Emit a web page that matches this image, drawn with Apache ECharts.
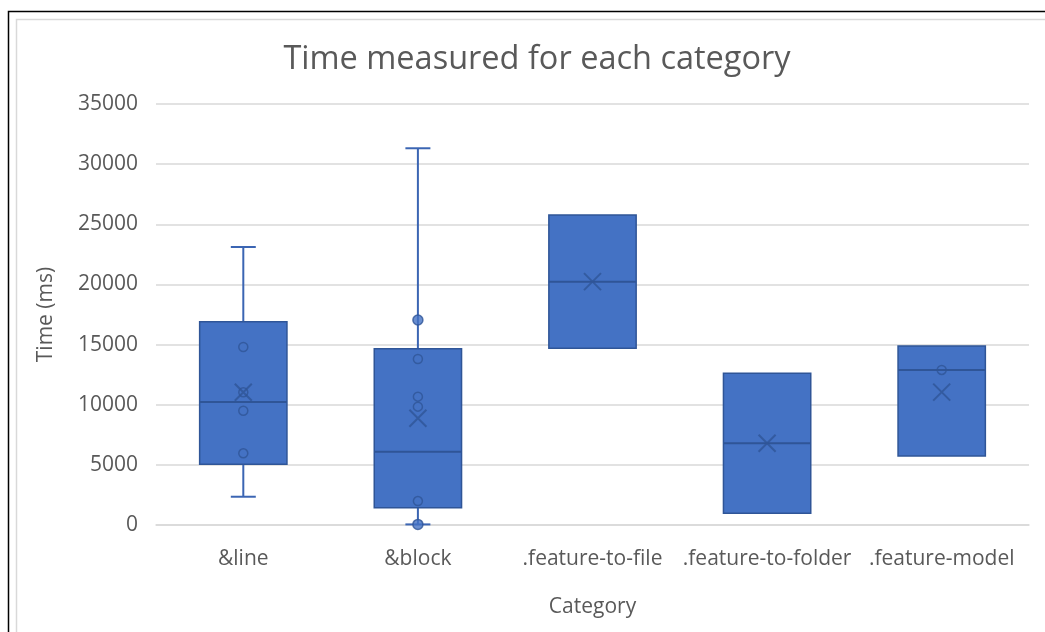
<!DOCTYPE html>
<html>
<head>
<meta charset="utf-8">
<script src="https://cdn.jsdelivr.net/npm/echarts@6/dist/echarts.min.js"></script>
<style>
html,body{margin:0;padding:0;background:#fff;}
#c{width:1045px;height:632px;}
</style>
</head>
<body>
<div id="c"></div>
<script>
// ---- data ----
var categories = ['&line', '&block', '.feature-to-file', '.feature-to-folder', '.feature-model'];
var whiskerLow  = [2350, 50, 14690, 970, 5740];
var q1          = [5050, 1440, 14690, 970, 5740];
var median      = [10230, 6100, 20230, 6790, 12890];
var q3          = [16900, 14660, 25770, 12610, 14880];
var whiskerHigh = [23110, 31320, 25770, 12610, 14880];
var means       = [11030, 8870, 20230, 6790, 11050];
var innerPoints = [
  [14800, 11030, 9500, 5960],
  [13800, 10670, 9840, 1990],
  [],
  [],
  [12890]
];
var outliers = [
  [],
  [17040, 50],
  [],
  [],
  []
];
var yTicks = [0, 5000, 10000, 15000, 20000, 25000, 30000, 35000];

// ---- build ----
var boxData = categories.map(function (c, i) {
  return [i, whiskerLow[i], q1[i], median[i], q3[i], whiskerHigh[i]];
});
var meanData = categories.map(function (c, i) { return [c, means[i]]; });
var innerData = [];
innerPoints.forEach(function (arr, i) { arr.forEach(function (v) { innerData.push([categories[i], v]); }); });
var outData = [];
outliers.forEach(function (arr, i) { arr.forEach(function (v) { outData.push([categories[i], v]); }); });

var FILL = '#4472C4', EDGE = '#2F5597', TXT = '#595959', GRID = '#D9D9D9';
var FONT = 'Open Sans';

function renderBox(params, api) {
  var idx = api.value(0);
  var lo = api.coord([idx, api.value(1)]);
  var b1 = api.coord([idx, api.value(2)]);
  var md = api.coord([idx, api.value(3)]);
  var b3 = api.coord([idx, api.value(4)]);
  var hi = api.coord([idx, api.value(5)]);
  var bw = api.size([1, 0])[0] * 0.5;
  var cw = 25;
  var x = lo[0];
  var children = [];
  if (api.value(5) > api.value(4)) {
    children.push({type: 'line', shape: {x1: x, y1: b3[1], x2: x, y2: hi[1]}, style: {stroke: '#3B65B3', lineWidth: 2}});
    children.push({type: 'line', shape: {x1: x - cw / 2, y1: hi[1], x2: x + cw / 2, y2: hi[1]}, style: {stroke: '#3B65B3', lineWidth: 2}});
  }
  if (api.value(1) < api.value(2)) {
    children.push({type: 'line', shape: {x1: x, y1: b1[1], x2: x, y2: lo[1]}, style: {stroke: '#3B65B3', lineWidth: 2}});
    children.push({type: 'line', shape: {x1: x - cw / 2, y1: lo[1], x2: x + cw / 2, y2: lo[1]}, style: {stroke: '#3B65B3', lineWidth: 2}});
  }
  children.push({type: 'rect', shape: {x: x - bw / 2, y: b3[1], width: bw, height: b1[1] - b3[1]}, style: {fill: FILL, stroke: EDGE, lineWidth: 1.5}});
  children.push({type: 'line', shape: {x1: x - bw / 2, y1: md[1], x2: x + bw / 2, y2: md[1]}, style: {stroke: EDGE, lineWidth: 2}});
  return {type: 'group', children: children};
}

var chart = echarts.init(document.getElementById('c'), null, {renderer: 'canvas'});
chart.setOption({
  backgroundColor: '#fff',
  animation: false,
  graphic: [
    {type: 'rect', z: 100, silent: true, shape: {x: 8.5, y: 11.5, width: 1100, height: 700}, style: {fill: 'none', stroke: '#000', lineWidth: 1.5}},
    {type: 'rect', z: 100, silent: true, shape: {x: 16.5, y: 19.5, width: 1100, height: 700}, style: {fill: 'none', stroke: GRID, lineWidth: 1.5}}
  ],
  title: {
    text: 'Time measured for each category',
    left: 532, top: 38, textAlign: 'center',
    textStyle: {fontFamily: FONT, fontSize: 32.5, fontWeight: 'normal', color: TXT}
  },
  grid: {left: 156, right: 16, top: 104, bottom: 107},
  xAxis: {
    type: 'category',
    data: categories,
    boundaryGap: true,
    name: 'Category', nameLocation: 'middle', nameGap: 72,
    nameTextStyle: {fontFamily: FONT, fontSize: 21, color: TXT},
    axisLine: {show: true, lineStyle: {color: GRID, width: 1.5}},
    axisTick: {show: false},
    axisLabel: {fontFamily: FONT, fontSize: 21, color: TXT, margin: 24, interval: 0},
    splitLine: {show: false}
  },
  yAxis: {
    type: 'value', min: 0, max: 35000, interval: 5000,
    name: 'Time (ms)', nameLocation: 'middle', nameGap: 99,
    nameTextStyle: {fontFamily: FONT, fontSize: 21, color: TXT},
    axisLine: {show: false}, axisTick: {show: false},
    axisLabel: {fontFamily: FONT, fontSize: 21, color: TXT, margin: 18,
      formatter: function (v) { return yTicks.indexOf(v) >= 0 ? String(v) : ''; }},
    splitLine: {lineStyle: {color: GRID, width: 1.5}}
  },
  series: [
    {type: 'custom', renderItem: renderBox, data: boxData, encode: {x: 0, y: [1, 2, 3, 4, 5]}, z: 2},
    {type: 'scatter', data: innerData, symbol: 'circle', symbolSize: 9, z: 3,
      itemStyle: {color: 'rgba(0,0,0,0)', borderColor: EDGE, borderWidth: 1.5}},
    {type: 'scatter', data: outData, symbol: 'circle', symbolSize: 10, z: 4,
      itemStyle: {color: FILL, borderColor: EDGE, borderWidth: 1.5}},
    {type: 'scatter', data: meanData, symbol: 'path://M0,0L10,10M10,0L0,10', symbolSize: 17, z: 4,
      itemStyle: {color: 'rgba(0,0,0,0)', borderColor: EDGE, borderWidth: 2}}
  ]
});
</script>
</body>
</html>
